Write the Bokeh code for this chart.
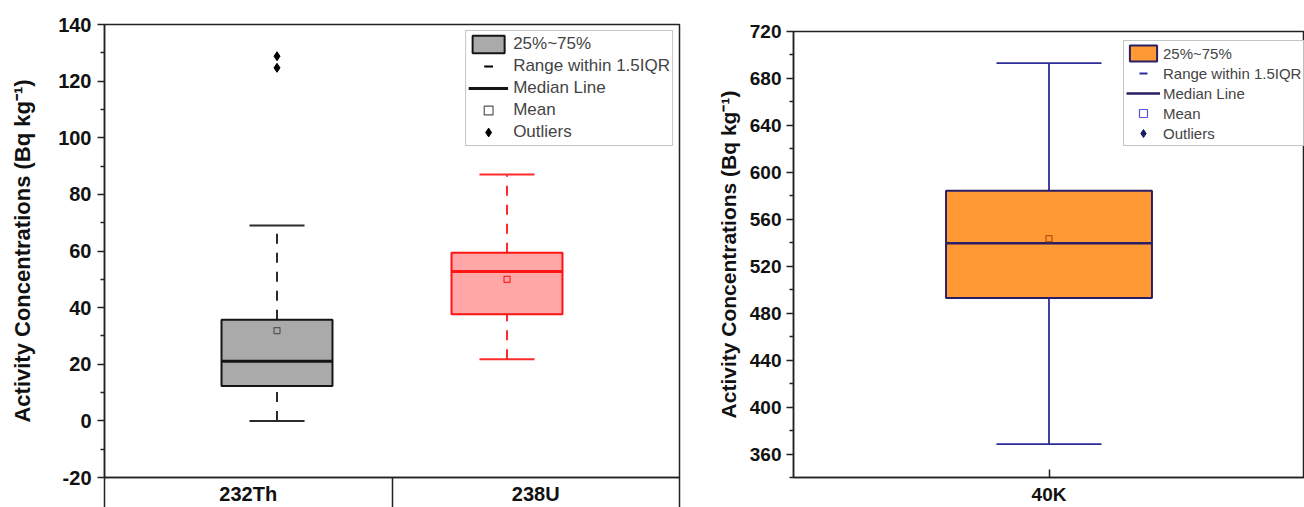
from bokeh.plotting import figure
from bokeh.models import (FixedTicker, Legend, LegendItem, Range1d, ColumnDataSource,
                          PrintfTickFormatter)
from bokeh.layouts import row, column
from bokeh.embed import file_html
from bokeh.resources import INLINE

# ---------------- data ----------------
cats_left = ["232Th", "238U"]
lower_left = [0.0, 21.8]
q1_left = [12.3, 37.7]
median_left = [21.1, 52.8]
q3_left = [35.7, 59.4]
upper_left = [69.0, 87.0]
mean_left = [31.9, 50.0]
outliers_th = [124.7, 128.8]

cats_right = ["40K"]
lower_right = [368.5]
q1_right = [493.0]
median_right = [539.6]
q3_right = [584.4]
upper_right = [693.0]
mean_right = [543.6]
outliers_k = []

yticks_left = list(range(-20, 141, 20))
yminor_left = list(range(-10, 140, 20))
yticks_right = list(range(360, 721, 40))
yminor_right = list(range(340, 721, 40))

FONT = "Liberation Sans"
YLABEL = "Activity Concentrations (Bq kg\u207b\u00b9)"
NAN = float("nan")


def style_yaxis(ax, ticks, minor, tick_size, label_size, label_standoff, axis_standoff):
    ax.ticker = FixedTicker(ticks=ticks, minor_ticks=minor)
    ax.formatter = PrintfTickFormatter(format="%d")
    ax.major_tick_out = 7
    ax.major_tick_in = 0
    ax.minor_tick_out = 4
    ax.minor_tick_in = 0
    ax.major_tick_line_color = "#222222"
    ax.minor_tick_line_color = "#222222"
    ax.major_tick_line_width = 1.5
    ax.minor_tick_line_width = 1.5
    ax.axis_line_color = "#222222"
    ax.axis_line_width = 1.5
    ax.major_label_text_font = FONT
    ax.major_label_text_font_style = "bold"
    ax.major_label_text_font_size = tick_size
    ax.major_label_standoff = label_standoff
    ax.major_label_text_color = "#111111"
    ax.axis_label = YLABEL
    ax.axis_label_text_font = FONT
    ax.axis_label_text_font_style = "bold"
    ax.axis_label_text_font_size = label_size
    ax.axis_label_standoff = axis_standoff
    ax.axis_label_text_color = "#111111"


# ---------------- left panel ----------------
cell_left = [2 * i + 1 for i in range(len(cats_left))]
box_off = [0.2, -0.2]
bx = [c + o for c, o in zip(cell_left, box_off)]
bw, cw = 0.772, 0.383

srcL = ColumnDataSource(dict(
    x=bx,
    left=[v - bw / 2 for v in bx], right=[v + bw / 2 for v in bx],
    c0=[v - cw / 2 for v in bx], c1=[v + cw / 2 for v in bx],
    lower=lower_left, q1=q1_left, med=median_left, q3=q3_left,
    upper=upper_left, mean=mean_left,
    fill=["#AAAAAA", "#FFA6A6"], line=["#151515", "#FF1414"],
    wline=["#2a2a2a", "#FF2A2A"], mline=["#555555", "#FF2020"],
))

pL = figure(width=690, height=507, output_backend="svg", toolbar_location=None,
            x_range=Range1d(0, 2 * len(cats_left)), y_range=Range1d(-20, 140),
            min_border_left=104, min_border_right=11, min_border_top=24,
            min_border_bottom=30)

pL.segment(x0="x", y0="q3", x1="x", y1="upper", line_color="wline", line_width=2,
           line_dash="10 9", source=srcL)
pL.segment(x0="x", y0="lower", x1="x", y1="q1", line_color="wline", line_width=2,
           line_dash="10 9", source=srcL)
pL.segment(x0="c0", y0="upper", x1="c1", y1="upper", line_color="wline", line_width=2,
           source=srcL)
pL.segment(x0="c0", y0="lower", x1="c1", y1="lower", line_color="wline", line_width=2,
           source=srcL)
boxL = pL.quad(left="left", right="right", bottom="q1", top="q3", fill_color="fill",
               line_color="line", line_width=2, source=srcL)
medL = pL.segment(x0="left", y0="med", x1="right", y1="med", line_color="line",
                  line_width=3, source=srcL)
meanL = pL.scatter(x="x", y="mean", marker="square", size=6, fill_alpha=0,
                   line_color="mline", line_width=1.2, source=srcL)
outL = pL.scatter(x=[bx[0]] * len(outliers_th), y=outliers_th, marker="diamond",
                  size=9, color="#000000")
rangeL = pL.scatter(x=[NAN], y=[NAN], marker="dash", size=10, line_color="#000000",
                    line_width=2)

legL = Legend(items=[
    LegendItem(label="25%~75%", renderers=[boxL], index=0),
    LegendItem(label="Range within 1.5IQR", renderers=[rangeL]),
    LegendItem(label="Median Line", renderers=[medL], index=0),
    LegendItem(label="Mean", renderers=[meanL], index=0),
    LegendItem(label="Outliers", renderers=[outL]),
], location="top_right", margin=6, padding=2, spacing=0, glyph_width=40,
    glyph_height=22, label_height=20, label_standoff=5,
    label_text_font=FONT, label_text_font_size="17px",
    border_line_color="#8c8c8c", border_line_width=1.2)
pL.add_layout(legL)

pL.xgrid.visible = False
pL.ygrid.visible = False
pL.outline_line_color = "#222222"
pL.outline_line_width = 1.5

xa = pL.xaxis[0]
xa.ticker = FixedTicker(ticks=cell_left, minor_ticks=[0, 2, 4])
xa.major_label_overrides = {c: n for c, n in zip(cell_left, cats_left)}
xa.major_tick_line_color = None
xa.major_tick_out = 0
xa.major_tick_in = 0
xa.minor_tick_out = 30
xa.minor_tick_in = 0
xa.minor_tick_line_color = "#222222"
xa.minor_tick_line_width = 1.5
xa.axis_line_color = "#222222"
xa.axis_line_width = 1.5
xa.major_label_text_font = FONT
xa.major_label_text_font_style = "bold"
xa.major_label_text_font_size = "20px"
xa.major_label_standoff = -25
xa.major_label_text_color = "#111111"

style_yaxis(pL.yaxis[0], yticks_left, yminor_left, "20px", "22px", 6, 20)

# ---------------- right panel ----------------
cell_right = [2 * i + 1 for i in range(len(cats_right))]
bwR, cwR = 0.806, 0.411
srcR = ColumnDataSource(dict(
    x=cell_right,
    left=[v - bwR / 2 for v in cell_right], right=[v + bwR / 2 for v in cell_right],
    c0=[v - cwR / 2 for v in cell_right], c1=[v + cwR / 2 for v in cell_right],
    lower=lower_right, q1=q1_right, med=median_right, q3=q3_right,
    upper=upper_right, mean=mean_right,
))

NAVY = "#2A1F66"
WNAVY = "#2C2C98"
pR = figure(width=614, height=507, output_backend="svg", toolbar_location=None,
            x_range=Range1d(0, 2 * len(cats_right)), y_range=Range1d(340, 720),
            min_border_left=103, min_border_right=0, min_border_top=31,
            min_border_bottom=30)

pR.segment(x0="x", y0="q3", x1="x", y1="upper", line_color=WNAVY, line_width=1.8, source=srcR)
pR.segment(x0="x", y0="lower", x1="x", y1="q1", line_color=WNAVY, line_width=1.8, source=srcR)
pR.segment(x0="c0", y0="upper", x1="c1", y1="upper", line_color=WNAVY, line_width=1.8, source=srcR)
pR.segment(x0="c0", y0="lower", x1="c1", y1="lower", line_color=WNAVY, line_width=1.8, source=srcR)
boxR = pR.quad(left="left", right="right", bottom="q1", top="q3", fill_color="#FF9933",
               line_color=NAVY, line_width=2, source=srcR)
medR = pR.segment(x0="left", y0="med", x1="right", y1="med", line_color=NAVY,
                  line_width=2.5, source=srcR)
meanR = pR.scatter(x="x", y="mean", marker="square", size=6, fill_alpha=0,
                   line_color="#B5520E", line_width=1.2, source=srcR)
rangeR = pR.scatter(x=[NAN], y=[NAN], marker="dash", size=10, line_color=WNAVY,
                    line_width=2)
meanIconR = pR.scatter(x=[NAN], y=[NAN], marker="square", size=6, fill_alpha=0,
                       line_color="#5555DD", line_width=1.2)
out_y = outliers_k if outliers_k else [NAN]
outR = pR.scatter(x=[cell_right[0]] * len(out_y), y=out_y, marker="diamond",
                  size=9, color="#1A1A60")

legR = Legend(items=[
    LegendItem(label="25%~75%", renderers=[boxR]),
    LegendItem(label="Range within 1.5IQR", renderers=[rangeR]),
    LegendItem(label="Median Line", renderers=[medR]),
    LegendItem(label="Mean", renderers=[meanIconR]),
    LegendItem(label="Outliers", renderers=[outR]),
], location=(330, 331), margin=0, padding=2, spacing=0, glyph_width=34,
    glyph_height=20, label_height=18, label_standoff=3,
    label_text_font=FONT, label_text_font_size="15px",
    border_line_color="#8c8c8c", border_line_width=1.2)
pR.add_layout(legR)

pR.xgrid.visible = False
pR.ygrid.visible = False
pR.outline_line_color = "#222222"
pR.outline_line_width = 1.5

xr = pR.xaxis[0]
xr.ticker = FixedTicker(ticks=cell_right)
xr.major_label_overrides = {c: n for c, n in zip(cell_right, cats_right)}
xr.major_tick_out = 0
xr.major_tick_in = 8
xr.major_tick_line_color = "#222222"
xr.major_tick_line_width = 1.5
xr.axis_line_color = "#222222"
xr.axis_line_width = 1.5
xr.major_label_text_font = FONT
xr.major_label_text_font_style = "bold"
xr.major_label_text_font_size = "19px"
xr.major_label_standoff = 6
xr.major_label_text_color = "#111111"

style_yaxis(pR.yaxis[0], yticks_right, yminor_right, "19px", "21px", 5, 7)

layout = row(column(pL), column(pR))
open("out.html", "w").write(file_html(layout, INLINE))
